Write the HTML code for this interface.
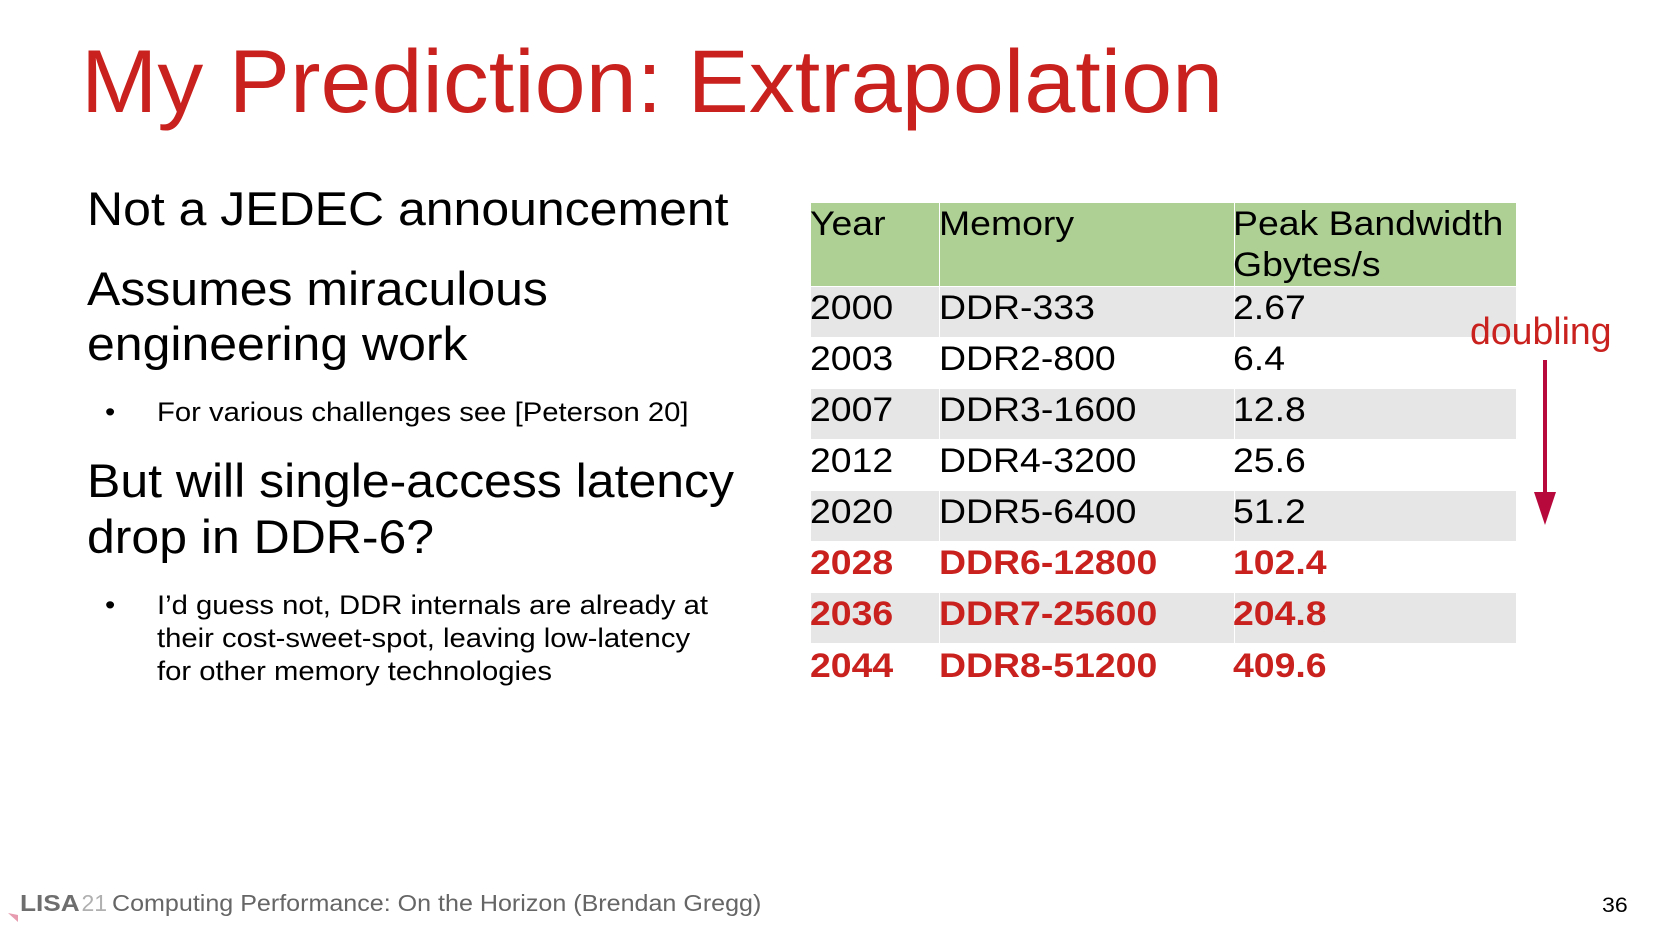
<!DOCTYPE html>
<html>
<head>
<meta charset="utf-8">
<style>
html,body{margin:0;padding:0;}
body{width:1654px;height:931px;background:#fff;position:relative;overflow:hidden;font-family:"Liberation Sans",Arial,sans-serif;}
.t{position:absolute;white-space:nowrap;transform-origin:0 0;}
.big{font-size:47px;line-height:55px;color:#000;transform:scaleX(1.063);}
.bul{font-size:27px;line-height:33px;color:#000;transform:scaleX(1.083);}
.cell{position:absolute;}
.g{background:#aed094;}
.gr{background:#e6e6e6;}
.tt{position:absolute;white-space:nowrap;transform-origin:0 0;font-size:34px;line-height:41px;color:#000;transform:scaleX(1.1);}
.red{color:#c9211e;font-weight:bold;}
</style>
</head>
<body>

<!-- Title -->
<div class="t" style="left:81px;top:37px;font-size:89.5px;line-height:89.5px;color:#c9211e;transform:scaleX(1.025);">My Prediction: Extrapolation</div>

<!-- Left text -->
<div class="t big" style="left:86.5px;top:180.5px;">Not a JEDEC announcement</div>
<div class="t big" style="left:86.5px;top:260.5px;">Assumes miraculous<br>engineering work</div>
<div class="t bul" style="left:105px;top:396px;">•</div>
<div class="t bul" style="left:157px;top:396px;">For various challenges see [Peterson 20]</div>
<div class="t big" style="left:86.5px;top:452.5px;line-height:56px;">But will single-access latency<br>drop in DDR-6?</div>
<div class="t bul" style="left:105px;top:588.5px;line-height:33.3px;">•</div>
<div class="t bul" style="left:157px;top:588.5px;line-height:33.3px;">I’d guess not, DDR internals are already at<br>their cost-sweet-spot, leaving low-latency<br>for other memory technologies</div>

<!-- Table backgrounds -->
<div class="cell g" style="left:811px;top:203px;width:127.5px;height:82.5px;"></div>
<div class="cell g" style="left:940px;top:203px;width:293.5px;height:82.5px;"></div>
<div class="cell g" style="left:1235px;top:203px;width:281px;height:82.5px;"></div>

<div class="cell gr" style="left:811px;top:287px;width:127.5px;height:49.5px;"></div>
<div class="cell gr" style="left:940px;top:287px;width:293.5px;height:49.5px;"></div>
<div class="cell gr" style="left:1235px;top:287px;width:281px;height:49.5px;"></div>

<div class="cell gr" style="left:811px;top:389px;width:127.5px;height:49.5px;"></div>
<div class="cell gr" style="left:940px;top:389px;width:293.5px;height:49.5px;"></div>
<div class="cell gr" style="left:1235px;top:389px;width:281px;height:49.5px;"></div>

<div class="cell gr" style="left:811px;top:491px;width:127.5px;height:49.5px;"></div>
<div class="cell gr" style="left:940px;top:491px;width:293.5px;height:49.5px;"></div>
<div class="cell gr" style="left:1235px;top:491px;width:281px;height:49.5px;"></div>

<div class="cell gr" style="left:811px;top:593px;width:127.5px;height:49.5px;"></div>
<div class="cell gr" style="left:940px;top:593px;width:293.5px;height:49.5px;"></div>
<div class="cell gr" style="left:1235px;top:593px;width:281px;height:49.5px;"></div>

<!-- Table header text -->
<div class="tt" style="left:810px;top:203.7px;">Year</div>
<div class="tt" style="left:938.5px;top:203.7px;">Memory</div>
<div class="tt" style="left:1233px;top:203.7px;">Peak Bandwidth<br>Gbytes/s</div>

<!-- Rows -->
<div class="tt" style="left:809.5px;top:287.7px;">2000</div>
<div class="tt" style="left:938.5px;top:287.7px;">DDR-333</div>
<div class="tt" style="left:1233px;top:287.7px;">2.67</div>

<div class="tt" style="left:809.5px;top:338.7px;">2003</div>
<div class="tt" style="left:938.5px;top:338.7px;">DDR2-800</div>
<div class="tt" style="left:1233px;top:338.7px;">6.4</div>

<div class="tt" style="left:809.5px;top:389.7px;">2007</div>
<div class="tt" style="left:938.5px;top:389.7px;">DDR3-1600</div>
<div class="tt" style="left:1233px;top:389.7px;">12.8</div>

<div class="tt" style="left:809.5px;top:440.7px;">2012</div>
<div class="tt" style="left:938.5px;top:440.7px;">DDR4-3200</div>
<div class="tt" style="left:1233px;top:440.7px;">25.6</div>

<div class="tt" style="left:809.5px;top:491.7px;">2020</div>
<div class="tt" style="left:938.5px;top:491.7px;">DDR5-6400</div>
<div class="tt" style="left:1233px;top:491.7px;">51.2</div>

<div class="tt red" style="left:809.5px;top:542.7px;">2028</div>
<div class="tt red" style="left:938.5px;top:542.7px;">DDR6-12800</div>
<div class="tt red" style="left:1233px;top:542.7px;">102.4</div>

<div class="tt red" style="left:809.5px;top:593.7px;">2036</div>
<div class="tt red" style="left:938.5px;top:593.7px;">DDR7-25600</div>
<div class="tt red" style="left:1233px;top:593.7px;">204.8</div>

<div class="tt red" style="left:809.5px;top:646px;">2044</div>
<div class="tt red" style="left:938.5px;top:646px;">DDR8-51200</div>
<div class="tt red" style="left:1233px;top:646px;">409.6</div>

<!-- doubling + arrow -->
<div class="t" style="left:1469.5px;top:313px;font-size:38px;line-height:38px;color:#c9211e;transform:scaleX(0.985);">doubling</div>
<svg style="position:absolute;left:0;top:0;" width="1654" height="931">
  <line x1="1545" y1="360" x2="1545" y2="494" stroke="#b8093d" stroke-width="4"/>
  <polygon points="1534,492 1556,492 1545,525" fill="#b8093d"/>
  <polygon points="8,913 18,915 18,922" fill="#e79cb0"/>
</svg>

<!-- Footer -->
<div class="t" style="left:19.5px;top:891.5px;font-size:23px;line-height:23px;color:#6e6e6e;font-weight:bold;transform:scaleX(1.14);">LISA</div>
<div class="t" style="left:81.5px;top:891.5px;font-size:23px;line-height:23px;color:#b0b0b0;">21</div>
<div class="t" style="left:111.5px;top:891.5px;font-size:23px;line-height:23px;color:#666;transform:scaleX(1.09);">Computing Performance: On the Horizon (Brendan Gregg)</div>
<div class="t" style="left:1602px;top:895px;font-size:21px;line-height:21px;color:#000;transform:scaleX(1.1);">36</div>

</body>
</html>
